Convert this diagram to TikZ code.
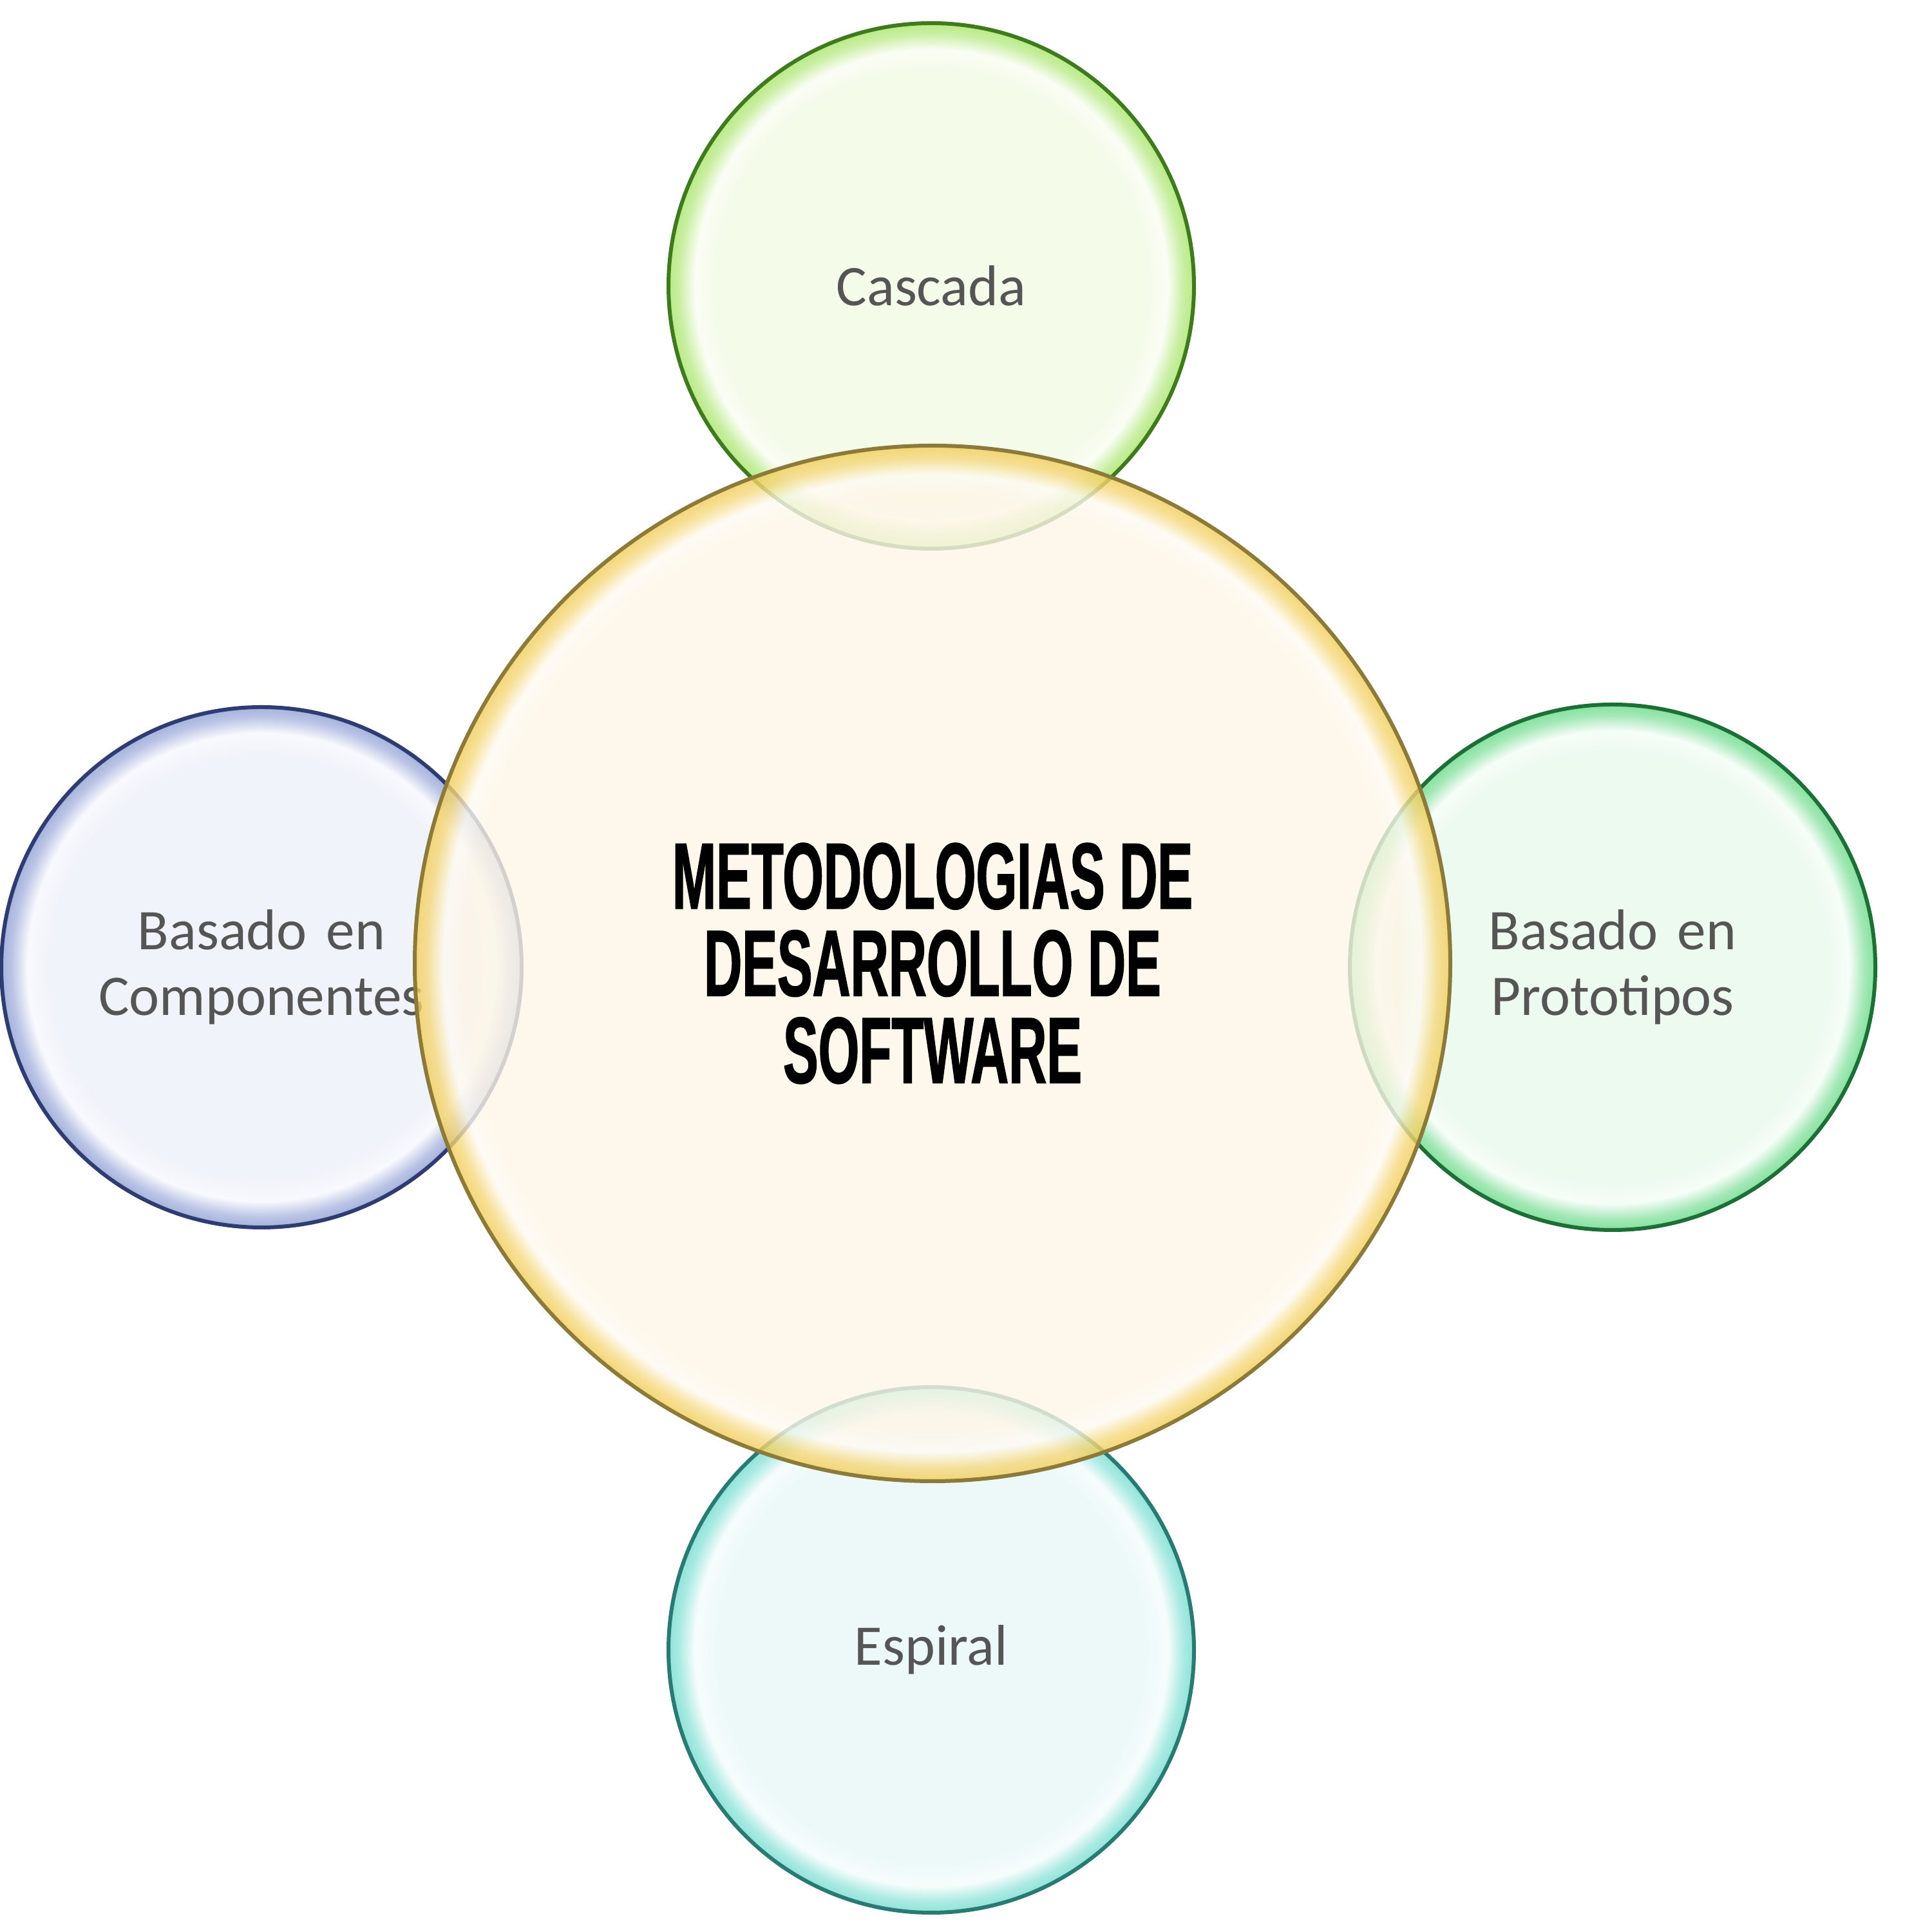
\documentclass[tikz,border=0pt]{standalone}
\usepackage{fontspec}
\setmainfont{Carlito}
\newfontfamily\titlefont[FakeStretch=0.56,FakeBold=1]{Liberation Sans}
\usepackage{tikz}

\definecolor{cenin}{HTML}{FDF6E6}
\definecolor{cenring}{HTML}{F2CC55}
\definecolor{cenline}{HTML}{8C7A3A}
\definecolor{casin}{HTML}{F2FAE4}
\definecolor{casring}{HTML}{A6E466}
\definecolor{casline}{HTML}{3F7A1E}
\definecolor{proin}{HTML}{E8F9EC}
\definecolor{proring}{HTML}{66D986}
\definecolor{proline}{HTML}{1E6E38}
\definecolor{espin}{HTML}{E9F8F8}
\definecolor{espring}{HTML}{72DCCF}
\definecolor{espline}{HTML}{2A7A74}
\definecolor{comin}{HTML}{EEF0F9}
\definecolor{comring}{HTML}{8E9ED4}
\definecolor{comline}{HTML}{2E3C72}
\definecolor{labeltext}{HTML}{555555}

% ring shadings (path edge sits at 25bp)
\pgfdeclareradialshading[bubin,bubring]{bubble}{\pgfpointorigin}{%
  color(0bp)=(bubin); color(20.5bp)=(bubin); color(22.5bp)=(bubin!50!white);
  color(24bp)=(bubring!75!white); color(25bp)=(bubring); color(50bp)=(bubring)}
\pgfdeclareradialshading[bubin,bubring]{bigbubble}{\pgfpointorigin}{%
  color(0bp)=(bubin); color(22.6bp)=(bubin); color(23.6bp)=(bubin!50!white);
  color(24.4bp)=(bubring!75!white); color(25bp)=(bubring); color(50bp)=(bubring)}

\tikzset{
  bubble/.style={circle,inner sep=0pt,outer sep=0pt,align=center,
    /utils/exec={\colorlet{bubin}{#1in}\colorlet{bubring}{#1ring}},
    shading=bubble,draw=#1line,line width=0.06cm,
    fill opacity=0.8,text opacity=1},
  small/.style={bubble=#1,minimum size=8.16cm,text=labeltext,
    font=\fontsize{25.4}{29}\selectfont},
}

\begin{document}
\begin{tikzpicture}
\useasboundingbox (0,0) rectangle (30,30);
\node[small=cas,name=n1] at (14.46,25.56) {Cascada};
\node[small=com,name=n4,minimum size=8.08cm] at (4.06,14.98) {Basado\hspace{0.3cm}en\\Componentes};
\node[small=pro,name=n2] at (25.04,14.98) {Basado\hspace{0.3cm}en\\Prototipos};
\node[small=esp,name=n3] at (14.46,4.38) {Espiral};
\node[bubble=cen,shading=bigbubble,minimum size=16.08cm,name=n0,
      font=\titlefont\bfseries\fontsize{41.6}{38.5}\selectfont] at (14.48,15.04)
      {METODOLOGIAS DE\\DESARROLLO DE\\SOFTWARE};
\end{tikzpicture}
\end{document}
